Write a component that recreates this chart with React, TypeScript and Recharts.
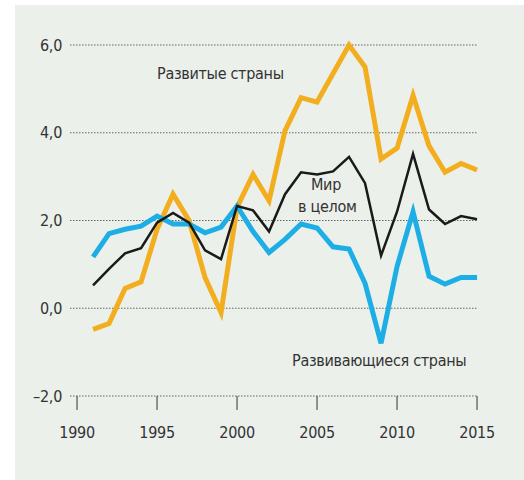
import React from "react";
import { LineChart, Line, XAxis, YAxis, CartesianGrid } from "recharts";

const years = [
  1991, 1992, 1993, 1994, 1995, 1996, 1997, 1998, 1999, 2000, 2001, 2002, 2003,
  2004, 2005, 2006, 2007, 2008, 2009, 2010, 2011, 2012, 2013, 2014, 2015,
];
// Развитые страны
const developed = [
  -0.48, -0.35, 0.45, 0.6, 1.8, 2.6, 2.0, 0.7, -0.1, 2.3, 3.05, 2.45, 4.05,
  4.8, 4.7, 5.35, 6.0, 5.5, 3.4, 3.65, 4.85, 3.7, 3.1, 3.3, 3.15,
];
// Мир в целом
const world = [
  0.52, 0.9, 1.25, 1.37, 1.95, 2.17, 1.95, 1.32, 1.12, 2.33, 2.23, 1.75, 2.6,
  3.1, 3.05, 3.12, 3.45, 2.85, 1.2, 2.2, 3.52, 2.25, 1.92, 2.1, 2.03,
];
// Развивающиеся страны
const developing = [
  1.17, 1.7, 1.8, 1.87, 2.1, 1.92, 1.92, 1.72, 1.85, 2.33, 1.75, 1.27, 1.57,
  1.92, 1.83, 1.4, 1.35, 0.57, -0.8, 0.95, 2.2, 0.73, 0.55, 0.7, 0.7,
];
const xTicks = [1990, 1995, 2000, 2005, 2010, 2015];
const yTicks = [-2, 0, 2, 4, 6];

const data = years.map((y, i) => ({
  year: y,
  developed: developed[i],
  world: world[i],
  developing: developing[i],
}));

const FONT = "'DejaVu Sans Condensed', 'Liberation Sans Narrow', sans-serif";
const TEXT = "#333";
const FS = 16;

const fmtY = (v: number) =>
  (v < 0 ? "\u2013" : "") + Math.abs(v).toFixed(1).replace(".", ",");

const label = (left: number, top: number, align: "left" | "center" = "left"): React.CSSProperties => ({
  position: "absolute",
  left,
  top,
  fontFamily: FONT,
  fontSize: FS,
  letterSpacing: -0.3,
  color: TEXT,
  lineHeight: "22px",
  textAlign: align,
  whiteSpace: "nowrap",
});

export default function App() {
  return (
    <div style={{ position: "absolute", left: 0, top: 0, width: 524, height: 480, background: "#fff" }}>
      <div style={{ position: "absolute", left: 15, top: 5, width: 509, height: 475, background: "#EBF0EB" }}>
        <LineChart
          width={509}
          height={475}
          data={data}
          margin={{ top: 40, right: 46, bottom: 44, left: 0 }}
        >
          <CartesianGrid vertical={false} stroke="#666" strokeDasharray="1.5 1.5" />
          <XAxis
            dataKey="year"
            type="number"
            domain={[1989.56, 2015.06]}
            ticks={xTicks}
            axisLine={false}
            tickSize={14}
            tickLine={{ stroke: "#333", strokeWidth: 1 }}
            tickMargin={17}
            height={40}
            tick={{ fill: TEXT, fontSize: FS, fontFamily: FONT, letterSpacing: -0.3 }}
          />
          <YAxis
            domain={[-2, 6]}
            ticks={yTicks}
            width={55}
            axisLine={false}
            tickLine={false}
            tickMargin={2}
            tickFormatter={fmtY}
            tick={{ fill: TEXT, fontSize: FS, fontFamily: FONT, letterSpacing: -0.3 }}
          />
          <Line type="linear" dataKey="developed" stroke="#F2AE1E" strokeWidth={5} dot={false} isAnimationActive={false} />
          <Line type="linear" dataKey="developing" stroke="#1EAEE6" strokeWidth={5} dot={false} isAnimationActive={false} />
          <Line type="linear" dataKey="world" stroke="#1a1a1a" strokeWidth={2.5} dot={false} isAnimationActive={false} />
        </LineChart>
        <div style={label(142, 58)}>Развитые страны</div>
        <div style={{ ...label(283, 169, "center"), width: 56 }}>
          Мир
          <br />
          в целом
        </div>
        <div style={label(277, 345)}>Развивающиеся страны</div>
      </div>
    </div>
  );
}
